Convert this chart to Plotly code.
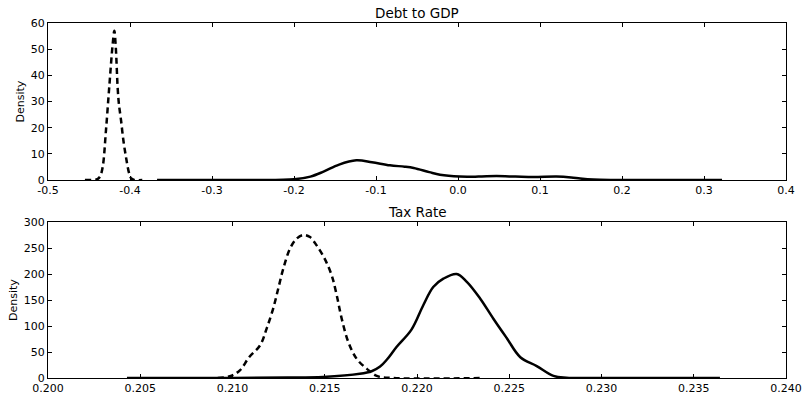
import plotly.graph_objects as go

# ---- Debt to GDP ----
debt_dash_x = [-0.455, -0.440, -0.4366, -0.4333, -0.4293, -0.4252, -0.4211, -0.4191,
               -0.4174, -0.4150, -0.4135, -0.4110, -0.4080, -0.4045, -0.4010, -0.3985,
               -0.3950, -0.3850]
debt_dash_y = [0, 0.3, 1.3, 5, 19, 36, 52, 57,
               51, 35, 29, 23, 15, 8, 2.5, 0.6,
               0.05, 0]

debt_solid_x = [-0.367, -0.25, -0.20, -0.18, -0.164, -0.145, -0.124, -0.105, -0.083,
                -0.065, -0.054, -0.035, -0.022, 0.002, 0.025, 0.047, 0.07, 0.092,
                0.12, 0.138, 0.149, 0.165, 0.19, 0.25, 0.322]
debt_solid_y = [0, 0.02, 0.3, 1.3, 3.2, 5.9, 7.5, 6.8, 5.6,
                5.1, 4.6, 3.0, 2.0, 1.3, 1.3, 1.5, 1.3, 1.1,
                1.3, 1.0, 0.6, 0.2, 0.03, 0, 0]

# ---- Tax Rate ----
tax_dash_x = [0.2092, 0.20986, 0.2104, 0.2109, 0.2115, 0.21185, 0.2122, 0.21248,
              0.21275, 0.21312, 0.21348, 0.21384, 0.2142, 0.21456, 0.2150, 0.21538,
              0.21565, 0.21592, 0.21628, 0.21673, 0.21727, 0.21782, 0.2187, 0.2236]
tax_dash_y = [0, 3.3, 14.7, 40, 63, 95, 133, 172,
              210, 249, 268, 275, 271, 255, 229, 197,
              159, 114, 69, 37, 18, 4, 0, 0]

tax_solid_x = [0.20428, 0.2100, 0.2130, 0.2149, 0.2169, 0.21754, 0.2180, 0.21836,
               0.2189, 0.2197, 0.22034, 0.22088, 0.22143, 0.22215, 0.2227, 0.22342,
               0.22414, 0.22486, 0.2256, 0.22649, 0.2274, 0.2281, 0.2300, 0.23642]
tax_solid_y = [0, 0.2, 0.8, 2, 8, 13, 22, 35,
               60, 93, 140, 175, 191, 200, 185, 153,
               114, 77, 40, 23, 4, 0.5, 0, 0]

top_xticks = [-0.5, -0.4, -0.3, -0.2, -0.1, 0.0, 0.1, 0.2, 0.3, 0.4]
top_xlabels = ["-0.5", "-0.4", "-0.3", "-0.2", "-0.1", "0.0", "0.1", "0.2", "0.3", "0.4"]
top_yticks = [0, 10, 20, 30, 40, 50, 60]
bot_xticks = [0.200, 0.205, 0.210, 0.215, 0.220, 0.225, 0.230, 0.235, 0.240]
bot_xlabels = ["0.200", "0.205", "0.210", "0.215", "0.220", "0.225", "0.230", "0.235", "0.240"]
bot_yticks = [0, 50, 100, 150, 200, 250, 300]

titles = ["Debt to GDP", "Tax Rate"]
ylabel = "Density"

font = "DejaVu Sans"
fig = go.Figure()

line_solid = dict(color="black", width=2.5)
line_dash = dict(color="black", width=2.5, dash="6px,4px")

fig.add_trace(go.Scatter(x=debt_dash_x, y=debt_dash_y, mode="lines", line=line_dash,
                         line_shape="spline", xaxis="x", yaxis="y", showlegend=False))
fig.add_trace(go.Scatter(x=debt_solid_x, y=debt_solid_y, mode="lines", line=line_solid,
                         line_shape="spline", xaxis="x", yaxis="y", showlegend=False))
fig.add_trace(go.Scatter(x=tax_dash_x, y=tax_dash_y, mode="lines", line=line_dash,
                         line_shape="spline", xaxis="x2", yaxis="y2", showlegend=False))
fig.add_trace(go.Scatter(x=tax_solid_x, y=tax_solid_y, mode="lines", line=line_solid,
                         line_shape="spline", xaxis="x2", yaxis="y2", showlegend=False))

axis_common = dict(showgrid=False, zeroline=False, showline=True, linecolor="black",
                   linewidth=1, mirror="allticks", ticks="inside", ticklen=4,
                   tickcolor="black", tickwidth=1, automargin=False,
                   tickfont=dict(family=font, size=11, color="black"))

W = 803
H = 393
plot_left, plot_right = 48, 786
top_y0, top_y1 = 23, 180
bot_y0, bot_y1 = 222, 378
top_dom = [1 - top_y1 / H, 1 - top_y0 / H]
bot_dom = [1 - bot_y1 / H, 1 - bot_y0 / H]

fig.update_layout(
    width=W, height=H,
    margin=dict(l=plot_left, r=W - plot_right, t=0, b=0, autoexpand=False),
    paper_bgcolor="white", plot_bgcolor="white",
    xaxis=dict(axis_common, range=[-0.5, 0.4], tickvals=top_xticks, ticktext=top_xlabels,
               domain=[0, 1], anchor="y"),
    yaxis=dict(axis_common, range=[0, 60], tickvals=top_yticks, domain=top_dom, anchor="x"),
    xaxis2=dict(axis_common, range=[0.2, 0.24], tickvals=bot_xticks, ticktext=bot_xlabels,
                domain=[0, 1], anchor="y2"),
    yaxis2=dict(axis_common, range=[0, 300], tickvals=bot_yticks, domain=bot_dom, anchor="x2"),
    annotations=[
        dict(text=titles[0], xref="paper", yref="paper", x=0.5, y=top_dom[1], yshift=0,
             xanchor="center", yanchor="bottom", showarrow=False,
             font=dict(family=font, size=13.5, color="black")),
        dict(text=titles[1], xref="paper", yref="paper", x=0.5, y=bot_dom[1], yshift=0,
             xanchor="center", yanchor="bottom", showarrow=False,
             font=dict(family=font, size=13.5, color="black")),
        dict(text=ylabel, xref="paper", yref="paper", x=0, xshift=-28,
             y=(top_dom[0] + top_dom[1]) / 2, xanchor="center", yanchor="middle",
             textangle=-90, showarrow=False, font=dict(family=font, size=11, color="black")),
        dict(text=ylabel, xref="paper", yref="paper", x=0, xshift=-35,
             y=(bot_dom[0] + bot_dom[1]) / 2, xanchor="center", yanchor="middle",
             textangle=-90, showarrow=False, font=dict(family=font, size=11, color="black")),
    ],
)

fig.write_html(
    "out.html",
    config={"displayModeBar": False},
    post_script="document.documentElement.style.margin='0';"
                "document.body.style.margin='0';"
                "document.body.style.overflow='hidden';",
)
